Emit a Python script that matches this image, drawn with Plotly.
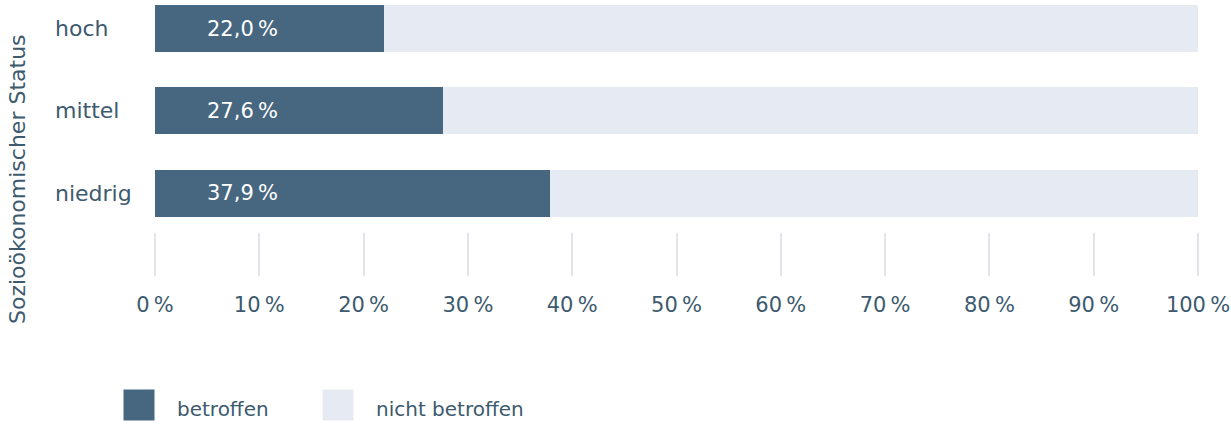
import plotly.graph_objects as go

categories = ["hoch", "mittel", "niedrig"]
betroffen = [22.0, 27.6, 37.9]
nicht_betroffen = [round(100 - v, 1) for v in betroffen]
tick_values = [0, 10, 20, 30, 40, 50, 60, 70, 80, 90, 100]
tick_labels = [f"{v}\u2009%" for v in tick_values]
series_names = ["betroffen", "nicht betroffen"]
axis_title = "Sozioökonomischer Status"

DARK = "#46677f"
LIGHT = "#e6eaf2"
TEXT = "#3d5a6e"
FONT = "DejaVu Sans"

W, H = 1231, 426
R_MARGIN = 33
PLOT_W = W - R_MARGIN          # plot area starts at pixel 0
X0_PX = 155                    # pixel of 0 %
MAIN_BOTTOM_PX = 232


def px(p):
    return p / PLOT_W


fig = go.Figure()
fig.add_trace(go.Bar(y=categories, x=betroffen, orientation="h", name=series_names[0],
                     marker=dict(color=DARK, line=dict(width=0)), hoverinfo="skip",
                     showlegend=False))
fig.add_trace(go.Bar(y=categories, x=nicht_betroffen, orientation="h", name=series_names[1],
                     marker=dict(color=LIGHT, line=dict(width=0)), hoverinfo="skip",
                     showlegend=False))

# legend drawn as a small subplot: one square per series
fig.add_trace(go.Scatter(x=series_names, y=[0, 0], xaxis="x2", yaxis="y2", mode="markers",
                         marker=dict(symbol="square", size=31, color=[DARK, LIGHT],
                                     line=dict(width=0)),
                         cliponaxis=False, hoverinfo="skip", showlegend=False))

annotations = []
for c, v in zip(categories, betroffen):
    annotations.append(dict(x=0, y=c, xref="x", yref="y", xanchor="left", xshift=50,
                            text=f"{v:.1f}".replace(".", ",") + "\u2009%", showarrow=False,
                            font=dict(family=FONT, size=21, color="#ffffff")))
    annotations.append(dict(x=px(53), y=c, xref="paper", yref="y", xanchor="left",
                            text=c, showarrow=False,
                            font=dict(family=FONT, size=22, color=TEXT)))
for s in series_names:
    annotations.append(dict(x=s, y=0, xref="x2", yref="y2", xanchor="left", xshift=36,
                            yshift=-4, text=s, showarrow=False,
                            font=dict(family=FONT, size=20, color=TEXT)))
annotations.append(dict(x=px(18), y=1 - 179 / H, xref="paper", yref="paper", textangle=-90,
                        text=axis_title, showarrow=False, xanchor="center", yanchor="middle",
                        font=dict(family=FONT, size=22, color=TEXT)))

main_dom = [1 - MAIN_BOTTOM_PX / H, 1]
leg_mid = 1 - 405 / H
px_per_cat = 199
r0 = -139 / px_per_cat

fig.update_layout(
    width=W, height=H,
    margin=dict(l=0, r=R_MARGIN, t=0, b=0, autoexpand=False),
    paper_bgcolor="white", plot_bgcolor="white",
    barmode="stack", bargap=0.429,
    showlegend=False,
    xaxis=dict(domain=[px(X0_PX), 1], range=[0, 100], tickvals=tick_values, ticktext=tick_labels,
               showgrid=False, zeroline=False, showline=False, anchor="y",
               ticks="outside", ticklen=43, tickwidth=1.5, tickcolor="#e1e4ea",
               ticklabelstandoff=11,
               tickfont=dict(family=FONT, size=21, color=TEXT), fixedrange=True),
    yaxis=dict(domain=main_dom, anchor="x", categoryorder="array", categoryarray=categories,
               range=[2.474, -0.347], showticklabels=False, showgrid=False,
               zeroline=False, showline=False, ticks="", fixedrange=True),
    xaxis2=dict(domain=[0, 1], anchor="y2", type="category",
                range=[r0, r0 + PLOT_W / px_per_cat], visible=False, fixedrange=True),
    yaxis2=dict(domain=[leg_mid - 0.03, leg_mid + 0.03], anchor="x2", range=[-1, 1],
                visible=False, fixedrange=True),
    annotations=annotations,
)

fig.write_html("out.html")
